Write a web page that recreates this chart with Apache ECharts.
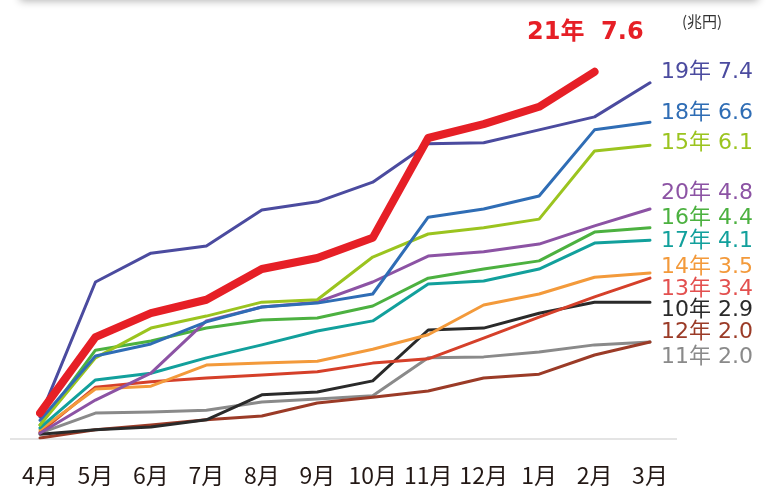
<!DOCTYPE html>
<html><head><meta charset="utf-8">
<script src="https://cdn.jsdelivr.net/npm/echarts@6/dist/echarts.min.js"></script>
<style>html,body{margin:0;padding:0;background:#fff}#c{width:770px;height:488px}</style>
</head><body><div id="c"></div>
<script>
const months = ['4月','5月','6月','7月','8月','9月','10月','11月','12月','1月','2月','3月'];
const unitLabel = '(兆円)';

const y21 = [0.52, 2.10, 2.60, 2.88, 3.52, 3.75, 4.17, 6.25, 6.54, 6.90, 7.63, null];
const y19 = [0.44, 3.25, 3.85, 4.00, 4.75, 4.92, 5.33, 6.13, 6.15, 6.42, 6.69, 7.40];
const y18 = [0.37, 1.71, 1.96, 2.42, 2.73, 2.81, 3.00, 4.60, 4.77, 5.04, 6.42, 6.58];
const y15 = [0.27, 1.67, 2.29, 2.54, 2.83, 2.88, 3.77, 4.25, 4.38, 4.56, 5.98, 6.10];
const y20 = [0.10, 0.79, 1.35, 2.44, 2.73, 2.83, 3.25, 3.79, 3.88, 4.04, 4.42, 4.77];
const y16 = [0.27, 1.83, 2.02, 2.29, 2.46, 2.50, 2.75, 3.33, 3.52, 3.69, 4.29, 4.38];
const y17 = [0.21, 1.21, 1.35, 1.67, 1.94, 2.23, 2.44, 3.21, 3.27, 3.52, 4.06, 4.12];
const y14 = [0.17, 1.02, 1.08, 1.52, 1.56, 1.60, 1.85, 2.15, 2.77, 3.00, 3.35, 3.44];
const y13 = [0.12, 1.06, 1.17, 1.25, 1.31, 1.38, 1.56, 1.65, 2.08, 2.52, 2.94, 3.33];
const y10 = [0.08, 0.17, 0.23, 0.38, 0.90, 0.96, 1.19, 2.25, 2.29, 2.60, 2.83, 2.83];
const y12 = [0.00, 0.17, 0.27, 0.38, 0.46, 0.73, 0.85, 0.98, 1.25, 1.33, 1.73, 2.00];
const y11 = [0.10, 0.52, 0.54, 0.58, 0.75, 0.81, 0.88, 1.67, 1.69, 1.79, 1.94, 2.00];

const names  = ['11年','12年','10年','13年','14年','17年','16年','20年','15年','18年','19年','21年'];
const finals = ['2.0','2.0','2.9','3.4','3.5','4.1','4.4','4.8','6.1','6.6','7.4','7.6'];
const dataSets = [y11,y12,y10,y13,y14,y17,y16,y20,y15,y18,y19,y21];
const lineColors  = ['#8a8a8a','#9b3b27','#2a2a2a','#d5402a','#f39a3b','#12a09c','#4cb140','#8c53a4','#9bc41f','#2f6db5','#4b4b9f','#e61f26'];
const labelColors = ['#8a8a8a','#9b3b27','#2a2a2a','#e3504f','#f39a3b','#12a09c','#4cb140','#8c53a4','#9bc41f','#2f6db5','#4b4b9f','#e61f26'];
const labelY = [357, 332, 310, 289, 267, 241, 218, 193, 143, 113, 72, 33];

const chart = echarts.init(document.getElementById('c'), null, {renderer:'canvas'});
const series = dataSets.map((d,i)=>({
  name: names[i], type:'line', data:d, symbol:'none', smooth:false,
  z: i===11 ? 5 : 3,
  lineStyle:{color:lineColors[i], width: i===11 ? 8 : 3, cap:'round', join:'round'},
  emphasis:{disabled:true}
}));

const graphics = [
  {type:'rect', shape:{x:20,y:-30,width:738,height:30}, style:{fill:'#fff', shadowBlur:8, shadowColor:'rgba(0,0,0,0.3)', shadowOffsetY:1}, z:10},
  {type:'rect', shape:{x:10,y:438,width:667,height:2}, style:{fill:'#e4e4e4'}, z:0},
  {type:'text', x:682, y:21, style:{text:unitLabel, font:'15px "Noto Sans CJK JP", sans-serif', fill:'#333', verticalAlign:'middle'}}
];
names.forEach((n,i)=>{
  if (i===11) {
    graphics.push({type:'text', x:527, y:labelY[i], style:{text:n+'  '+finals[i], font:'bold 24px "DejaVu Sans", "Noto Sans CJK JP", sans-serif', fill:labelColors[i], verticalAlign:'middle'}});
  } else {
    graphics.push({type:'text', x:661, y:labelY[i], style:{text:n+' '+finals[i], font:'22px "DejaVu Sans", "Noto Sans CJK JP", sans-serif', fill:labelColors[i], verticalAlign:'middle'}});
  }
});

chart.setOption({
  animation:false,
  grid:{left:40, right:120, top:54, bottom:50},
  xAxis:{type:'category', data:months, boundaryGap:false,
    axisLine:{show:false}, axisTick:{show:false}, splitLine:{show:false},
    axisLabel:{margin:26, fontSize:23, color:'#231815', fontFamily:'"Noto Sans CJK JP", sans-serif', interval:0}},
  yAxis:{type:'value', min:0, max:8, show:false},
  series: series,
  graphic: graphics
});
</script></body></html>
